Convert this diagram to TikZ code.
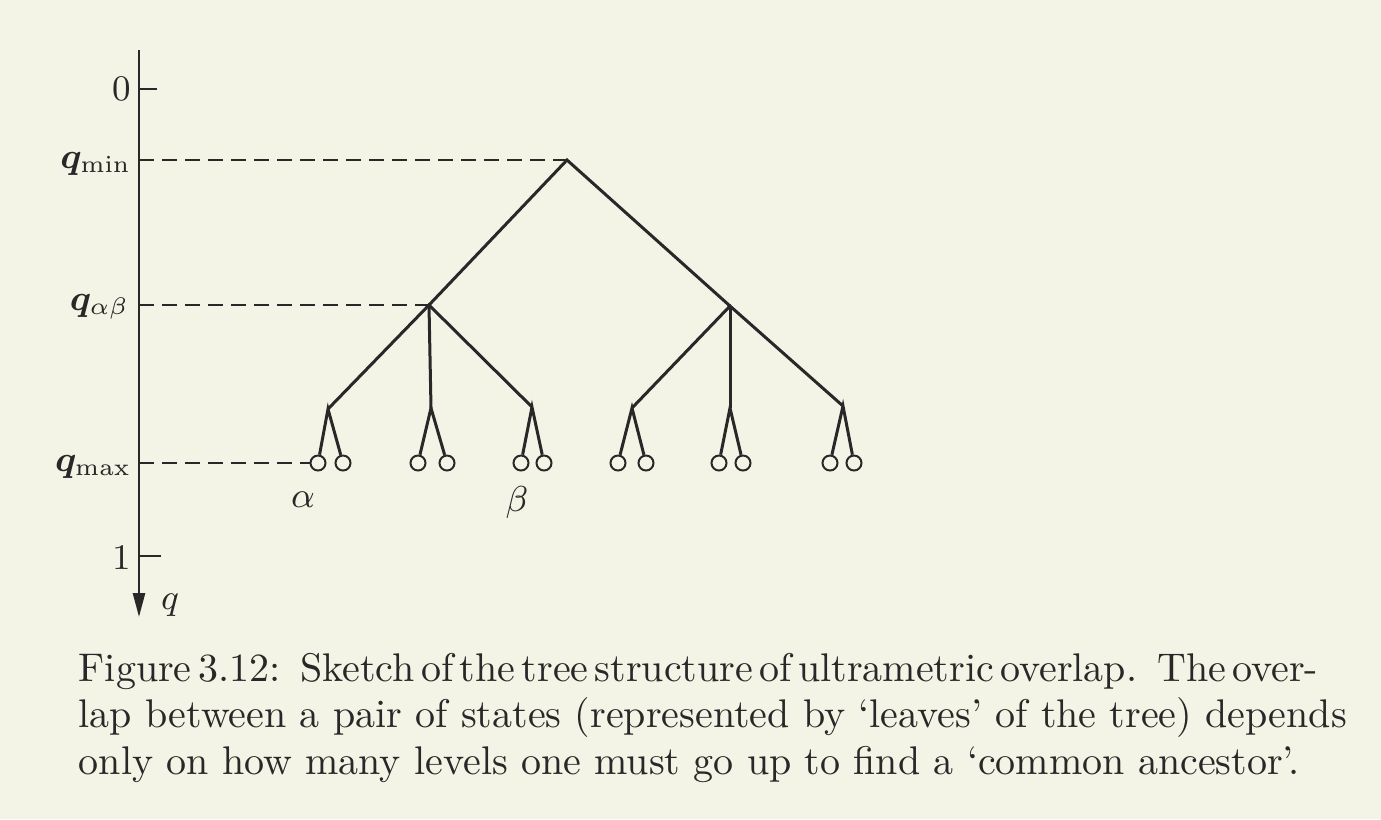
\documentclass[tikz,border=0pt]{standalone}
\usepackage{bm}
\usetikzlibrary{arrows.meta}
\definecolor{paper}{RGB}{244,244,230}
\definecolor{ink}{RGB}{40,40,40}
\newcommand{\capline}[1]{\hbox to 308.75pt{#1}}
\begin{document}
\begin{tikzpicture}[x=0.25pt,y=-0.25pt,
  branch/.style={draw=ink,line width=0.75pt,line join=miter},
  guide/.style={draw=ink,line width=0.6pt,dash pattern=on 3.75pt off 2pt},
  leaf/.style={circle,draw=ink,line width=0.5pt,minimum size=3.75pt,inner sep=0pt},
  lab/.style={text=ink,inner sep=0pt,font=\fontsize{9}{10}\selectfont},
]
\fill[paper] (0,0) rectangle (1381,819);
\useasboundingbox (0,0) rectangle (1381,819);
% axis
\coordinate (axtop) at (139,50);
\coordinate (axtip) at (139,617);
\draw[ink,line width=0.65pt,-{Triangle[length=6pt,width=3pt]}] (axtop) -- (axtip);
\coordinate (t0) at (139,89);  \coordinate (t0e) at (157,89);
\coordinate (t1) at (139,556); \coordinate (t1e) at (161,556);
\coordinate (tmin) at (139,160);
\coordinate (tab) at (139,305);
\coordinate (tmax) at (139,463);
\draw[ink,line width=0.6pt] (t0) -- (t0e);
\draw[ink,line width=0.6pt] (t1) -- (t1e);
% tree
\coordinate (root) at (567,160);
\coordinate (A) at (429,305);
\coordinate (B) at (730,306);
\coordinate (A1) at (328,409);
\coordinate (A2) at (431,408);
\coordinate (A3) at (532,407);
\coordinate (B1) at (632,408);
\coordinate (B2) at (730,408);
\coordinate (B3) at (843,406);
\node[leaf] (l1) at (318,463) {};
\node[leaf] (l2) at (343,463) {};
\node[leaf] (l3) at (418,463) {};
\node[leaf] (l4) at (447,463) {};
\node[leaf] (l5) at (521,463) {};
\node[leaf] (l6) at (544,463) {};
\node[leaf] (l7) at (618,463) {};
\node[leaf] (l8) at (646,463) {};
\node[leaf] (l9) at (719,463) {};
\node[leaf] (l10) at (743,463) {};
\node[leaf] (l11) at (830,463) {};
\node[leaf] (l12) at (854,463) {};
\draw[branch] (A) -- (root) -- (B);
\draw[branch] (A1) -- (A) -- (A3);
\draw[branch] (A) -- (A2);
\draw[branch] (B1) -- (B) -- (B3);
\draw[branch] (B) -- (B2);
\draw[branch] (l1) -- (A1) -- (l2);
\draw[branch] (l3) -- (A2) -- (l4);
\draw[branch] (l5) -- (A3) -- (l6);
\draw[branch] (l7) -- (B1) -- (l8);
\draw[branch] (l9) -- (B2) -- (l10);
\draw[branch] (l11) -- (B3) -- (l12);
% guides
\draw[guide] (tmin) -- (root);
\draw[guide] (tab) -- (A);
\draw[guide] (tmax) -- (l1);
% labels
\node[lab,anchor=east] (L0) at (132,89) {0};
\node[lab,anchor=east] (Lmin) at (132,164) {$\bm{q}_{\mathrm{min}}$};
\node[lab,anchor=east] (Lab) at (130,307) {$\bm{q}_{\alpha\beta}$};
\node[lab,anchor=east] (Lmax) at (132,467) {$\bm{q}_{\mathrm{max}}$};
\node[lab,anchor=east] (L1) at (132,557) {1};
\node[lab] (La) at (303,500) {$\alpha$};
\node[lab] (Lb) at (517,502) {$\beta$};
\node[lab] (Lq) at (170,605) {$q$};
% caption
\node[anchor=base west,text width=308.75pt,inner sep=0pt,text=ink,
      font=\fontsize{10}{11.7}\selectfont] (cap) at (78,681)
  {\capline{\spaceskip=1.9pt plus 2pt minus 0.3pt\xspaceskip=5pt plus 1pt
    Figure 3.12: Sketch of the tree structure of ultrametric overlap. The over-}
   \capline{lap between a pair of states (represented by `leaves' of the tree) depends}
   \capline{only on how many levels one must go up to find a `common ancestor'.\hfil}};
\end{tikzpicture}
\end{document}
